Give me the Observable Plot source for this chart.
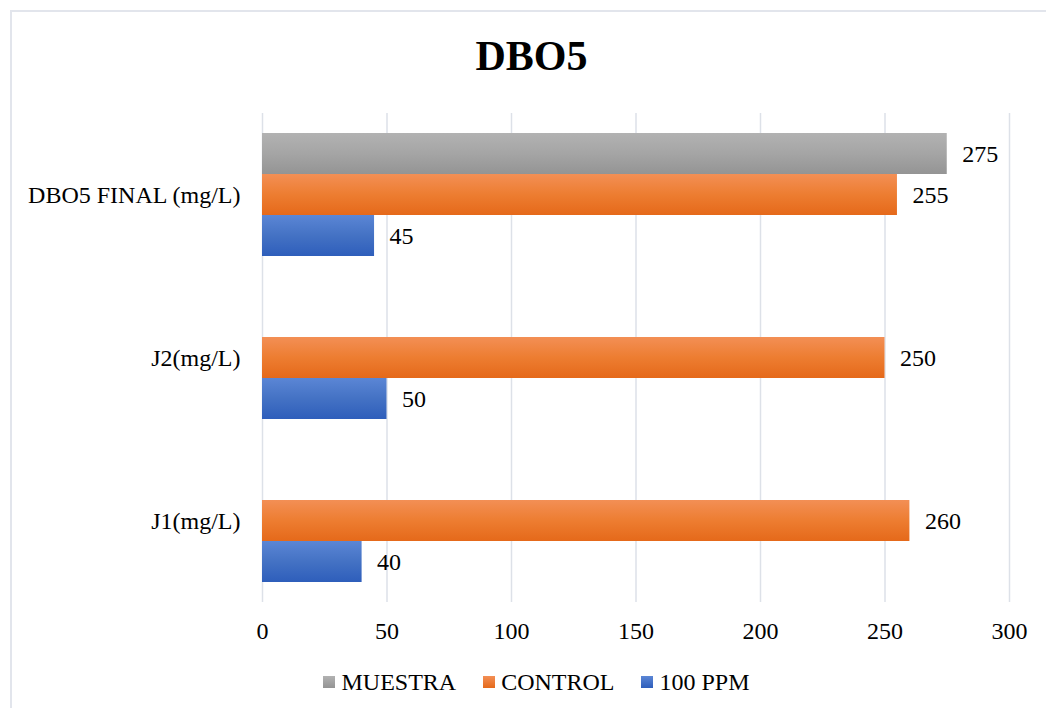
<!DOCTYPE html>
<html>
<head>
<meta charset="utf-8">
<script src="https://cdn.jsdelivr.net/npm/d3@7"></script>
<script src="https://cdn.jsdelivr.net/npm/@observablehq/plot@0.6"></script>
<style>
  html, body { margin: 0; padding: 0; background: #fff; overflow: hidden; }
  #page { position: relative; width: 1046px; height: 708px; overflow: hidden; }
  #frame { position: absolute; left: 10px; top: 10px; width: 1100px; height: 800px;
           border: 2px solid #e2e5ec; box-sizing: border-box; }
  #title { position: absolute; left: 0; top: 28px; width: 1063px; text-align: center;
           font: bold 42px "Liberation Serif", "Times New Roman", serif; line-height: 56px; color: #000; }
  #chart { position: absolute; left: 0; top: 90px; }
  #legend { position: absolute; left: 0; top: 668px; width: 1073px; display: flex;
            justify-content: center; align-items: center; gap: 27px;
            font: 24px "Liberation Serif", "Times New Roman", serif; color: #000; line-height: 28px; }
  .item { display: flex; align-items: center; gap: 6px; }
  .sw { width: 12px; height: 12px; display: inline-block; }
</style>
</head>
<body>
<div id="page">
  <div id="frame"></div>
  <div id="title">DBO5</div>
  <div id="chart"></div>
  <div id="legend"></div>
</div>
<script>
// Categories (top to bottom) and series
const categories = ["DBO5 FINAL (mg/L)", "J2(mg/L)", "J1(mg/L)"];
const seriesNames = ["MUESTRA", "CONTROL", "100 PPM"];

// Values per category, in the order of `categories`
const muestra = [275, null, null];
const control = [255, 250, 260];
const ppm100 = [45, 50, 40];

// x-axis ticks
const xTicks = [0, 50, 100, 150, 200, 250, 300];

// Bar gradients (top colour, middle, bottom colour) per series
const gradients = [
  { id: "gMuestra", top: "#b2b2b2", bottom: "#949494", flat: "#a5a5a5" },
  { id: "gControl", top: "#f38f55", bottom: "#e5691a", flat: "#ed7d31" },
  { id: "gPpm", top: "#5b86d5", bottom: "#2e5ebb", flat: "#4472c4" }
];

const seriesValues = [muestra, control, ppm100];
const rows = categories.flatMap((category, i) =>
  seriesNames
    .map((series, s) => ({ category, series, value: seriesValues[s][i] }))
    .filter(d => d.value != null)
);

const font = '"Liberation Serif", "Times New Roman", serif';
const gap = 20; // half of the space between category groups

const chart = Plot.plot({
  width: 1046,
  height: 560,
  marginTop: 23,
  marginBottom: 48,
  marginLeft: 262,
  marginRight: 37,
  style: { fontFamily: font, fontSize: "24px", color: "#000", background: "transparent", overflow: "visible" },
  x: { domain: [0, 300], ticks: xTicks, axis: null },
  y: { domain: seriesNames, padding: 0, axis: null },
  fy: { domain: categories, paddingInner: 0.2454, paddingOuter: 0.1227, axis: null },
  color: { domain: seriesNames, range: gradients.map(g => `url(#${g.id})`) },
  marks: [
    // grid lines run across the gaps between groups
    Plot.ruleX(xTicks, { stroke: "#dde1e8", strokeWidth: 1.5, insetTop: -gap, insetBottom: -gap }),
    Plot.barX(rows, { x: "value", y: "series", fy: "category", fill: "series" }),
    Plot.text(rows, {
      x: "value", y: "series", fy: "category",
      text: d => String(d.value), textAnchor: "start", dx: 15, fill: "#000"
    }),
    Plot.axisFy({ anchor: "left", tickSize: 0, tickPadding: 22, label: null }),
    Plot.axisX(xTicks, { anchor: "bottom", tickSize: 0, tickPadding: 39, label: null })
  ]
});

// Vertical gradients used by the bars
const defs = d3.select(chart).insert("defs", ":first-child");
for (const g of gradients) {
  const lg = defs.append("linearGradient").attr("id", g.id)
    .attr("x1", 0).attr("y1", 0).attr("x2", 0).attr("y2", 1);
  lg.append("stop").attr("offset", "0%").attr("stop-color", g.top);
  lg.append("stop").attr("offset", "50%").attr("stop-color", g.flat);
  lg.append("stop").attr("offset", "100%").attr("stop-color", g.bottom);
}

document.getElementById("chart").appendChild(chart);

// Legend
const legend = d3.select("#legend");
seriesNames.forEach((name, i) => {
  const g = gradients[i];
  const item = legend.append("div").attr("class", "item");
  item.append("span").attr("class", "sw")
    .style("background", `linear-gradient(${g.top}, ${g.bottom})`);
  item.append("span").text(name);
});
</script>
</body>
</html>
